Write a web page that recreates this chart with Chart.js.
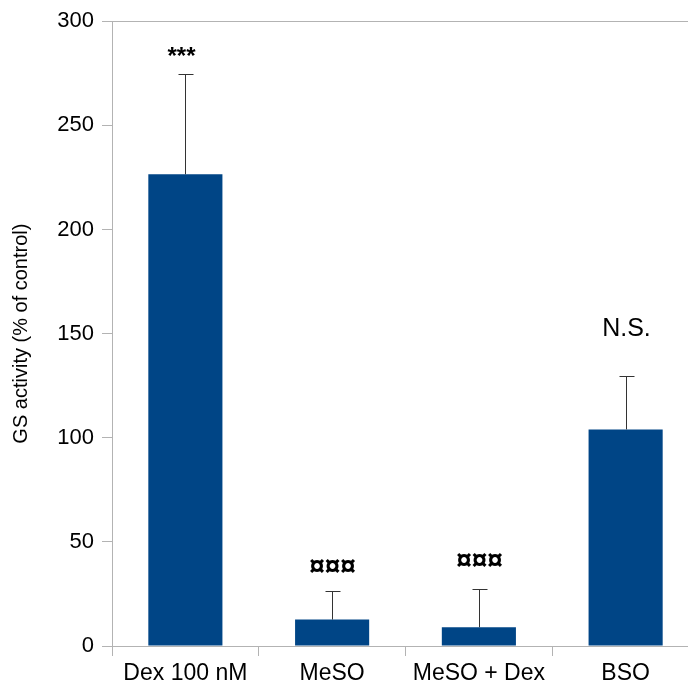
<!DOCTYPE html>
<html>
<head>
<meta charset="utf-8">
<script src="https://cdn.jsdelivr.net/npm/chart.js@4/dist/chart.umd.min.js"></script>
<style>
    html, body { margin: 0; padding: 0; background: #fff; overflow: hidden; }
    #wrap { width: 712px; height: 691px; }
</style>
</head>
<body>
<div id="wrap"><canvas id="chart"></canvas></div>
<script>
const categories = ['Dex 100 nM', 'MeSO', 'MeSO + Dex', 'BSO'];
const activity = [226.5, 12.7, 9.0, 104.0];
const errorUp = [48.2, 13.5, 18.5, 25.6];
const significance = ['***', '¤¤¤', '¤¤¤', 'N.S.'];
const yTicks = [0, 50, 100, 150, 200, 250, 300];

const FONT = '"Liberation Sans", Arial, sans-serif';
const AXIS_GREY = '#b3b3b3';

// draws the upper error bars and the significance marks above them
const errorBarPlugin = {
    id: 'errorBars',
    afterDatasetsDraw(chart, args, opts) {
        const { ctx, scales: { x, y } } = chart;
        ctx.save();
        ctx.strokeStyle = '#333';
        ctx.lineWidth = 1;
        activity.forEach((v, i) => {
            const cx = Math.round(x.getPixelForValue(i)) + 0.5;
            const yBar = y.getPixelForValue(v);
            const yTop = Math.round(y.getPixelForValue(v + errorUp[i])) + 0.5;
            ctx.beginPath();
            ctx.moveTo(cx, yBar);
            ctx.lineTo(cx, yTop);
            ctx.moveTo(cx - 7, yTop);
            ctx.lineTo(cx + 8, yTop);
            ctx.stroke();

            const mark = opts.marks[i];
            ctx.fillStyle = '#000';
            ctx.font = mark.font;
            ctx.textAlign = 'center';
            ctx.textBaseline = 'middle';
            ctx.fillText(significance[i], cx + mark.dx, yTop - mark.gap);
        });
        ctx.restore();
    }
};

const ctx = document.getElementById('chart').getContext('2d');

new Chart(ctx, {
    type: 'bar',
    data: {
        labels: categories,
        datasets: [
            {
                label: 'GS activity',
                data: activity,
                backgroundColor: '#004586',
                borderWidth: 0,
                barPercentage: 1,
                categoryPercentage: 0.505
            }
        ]
    },
    options: {
        responsive: true,
        maintainAspectRatio: false,
        animation: false,
        layout: { padding: { top: 17, right: 13, left: 0, bottom: 0 } },
        plugins: {
            legend: { display: false },
            tooltip: { enabled: false },
            errorBars: {
                marks: [
                    { font: 'bold 24px ' + FONT, gap: 17, dx: -4 },
                    { font: 'bold 28px ' + FONT, gap: 24, dx: 0 },
                    { font: 'bold 28px ' + FONT, gap: 28, dx: 0 },
                    { font: '25px ' + FONT, gap: 47, dx: 0 }
                ]
            }
        },
        scales: {
            x: {
                offset: true,
                afterFit: (scale) => { scale.height = 45; },
                border: { color: AXIS_GREY, width: 1 },
                grid: {
                    offset: true,
                    drawOnChartArea: false,
                    tickLength: 10,
                    tickColor: AXIS_GREY
                },
                ticks: {
                    color: '#000',
                    font: { family: FONT, size: 23 },
                    padding: 4
                }
            },
            y: {
                min: 0,
                max: 300,
                afterFit: (scale) => { scale.width = 112; },
                afterBuildTicks: (scale) => { scale.ticks = yTicks.map(v => ({ value: v })); },
                border: { color: AXIS_GREY, width: 1 },
                grid: {
                    color: (c) => (c.tick && c.tick.value === 300 ? AXIS_GREY : 'rgba(0,0,0,0)'),
                    tickLength: 10,
                    tickColor: AXIS_GREY
                },
                ticks: {
                    color: '#000',
                    font: { family: FONT, size: 22 },
                    padding: 8
                },
                title: {
                    display: true,
                    text: 'GS activity (% of control)',
                    color: '#000',
                    font: { family: FONT, size: 20 },
                    padding: { top: 9, bottom: 0 }
                }
            }
        }
    },
    plugins: [errorBarPlugin]
});
</script>
</body>
</html>
